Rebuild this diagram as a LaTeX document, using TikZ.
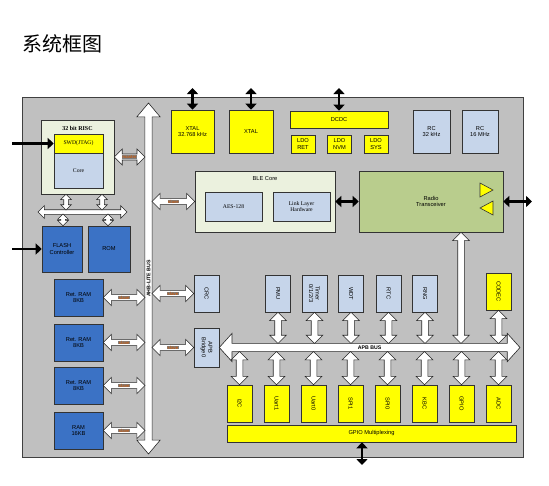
\documentclass[tikz,border=0pt]{standalone}
\usepackage{fontspec}
\setmainfont{Liberation Sans}
\newfontfamily\cjk{Noto Sans CJK SC}
\newfontfamily\sfont{Liberation Serif}
\usetikzlibrary{arrows.meta,shapes.arrows,calc}
\definecolor{panel}{HTML}{C0C0C0}
\definecolor{chipyellow}{HTML}{FFFF00}
\definecolor{paleblue}{HTML}{C6D5EA}
\definecolor{memblue}{HTML}{3B72C5}
\definecolor{cream}{HTML}{EBF1DE}
\definecolor{radiogreen}{HTML}{B9CD8D}
\definecolor{tagbg}{HTML}{808080}
\definecolor{tagfg}{HTML}{C55A11}
\setlength\fboxsep{0.3pt}
\newcommand\lab{\fontsize{5.7}{6.5}\selectfont}
\newcommand\bustag[1]{\colorbox{tagbg}{\textcolor{tagfg}{#1}}}
% white block arrow between two points
\newcommand\wlink[4][plink]{%
  \path let \p1=(#2), \p2=(#3),
    \n1={veclen(\x2-\x1,\y2-\y1)}, \n2={atan2(\y2-\y1,\x2-\x1)}
  in node[#1, minimum height=\n1, rotate=\n2] at ({0.5*\x1+0.5*\x2},{0.5*\y1+0.5*\y2}) {#4};}
\begin{document}
\begin{tikzpicture}[x=1pt,y=-1pt,>={Triangle[length=6pt,width=11pt]},
    box/.style={draw=black!80, line width=0.6pt, inner sep=0pt, align=center, font=\lab},
    ybox/.style={box, fill=chipyellow},
    lbox/.style={box, fill=paleblue},
    bbox/.style={box, fill=memblue},
    cbox/.style={box, fill=cream},
    mem/.style={minimum width=49, minimum height=37},
    pbox/.style={minimum width=25, minimum height=37},
    vlab/.style={rotate=-90, align=center, font=\lab},
    blk/.style={line width=2.5pt},
    warrow/.style={double arrow, draw=black!85, fill=white, line width=0.6pt, inner xsep=0pt, double arrow tip angle=90},
    slave/.style={warrow, inner ysep=0.9pt, double arrow head extend=5pt, font=\bfseries\fontsize{4.4}{4.6}\selectfont},
    plink/.style={warrow, inner ysep=3pt, double arrow head extend=5pt},
    cpulink/.style={warrow, inner ysep=2pt, double arrow head extend=3pt},
    cbus/.style={warrow, inner ysep=2pt, double arrow head extend=4pt},
    ahb/.style={warrow, inner ysep=1.5pt, double arrow head extend=8pt, double arrow tip angle=80, font=\bfseries\fontsize{5.2}{5.5}\selectfont},
    apb/.style={warrow, inner ysep=2pt, double arrow head extend=10pt, double arrow tip angle=96, font=\bfseries\fontsize{5.2}{5.5}\selectfont}]
  \useasboundingbox (0,0) rectangle (549,485);
  \fill[white] (0,0) rectangle (549,485);
  \node[anchor=west, inner sep=0pt, font=\cjk\fontsize{20}{20}\selectfont] (title) at (22,44) {系统框图};
  \draw[fill=panel, draw=black!75, line width=0.6pt] (22,97) rectangle (523,457);

  % free ends and bus edges
  \coordinate (top) at (0,88);
  \coordinate (jtag) at (12,143.5);
  \coordinate (fpin) at (12,249);
  \coordinate (ant) at (532,201.5);
  \coordinate (gpad) at (362,465);
  \coordinate (ahbL) at (145,0);
  \coordinate (ahbR) at (152,0);
  \coordinate (ahbBot) at (148.5,454);
  \coordinate (ahbTop) at (148.5,103);
  \coordinate (apbT) at (0,343.5);
  \coordinate (apbB) at (0,351.5);
  \coordinate (apbR) at (520,347.5);
  \coordinate (rx) at (461,0);
  \coordinate (cbL) at (38,212);
  \coordinate (cbR) at (127,212);
  \coordinate (cb1) at (66,210);
  \coordinate (cb2) at (102,210);
  \coordinate (cb3) at (63,214);
  \coordinate (cb4) at (108,214);

  % cpu and memories
  \node[cbox, minimum width=73, minimum height=74,
    label={[font=\sfont\bfseries\fontsize{6}{7}\selectfont, anchor=north, yshift=-3pt]north:32 bit RISC}] (cpu) at (77.5,157) {};
  \node[ybox, font=\sfont\lab, minimum width=49, minimum height=19] (swd) at (78.5,143.5) {SWD(JTAG)};
  \node[lbox, font=\sfont\lab, minimum width=49, minimum height=35] (core) at (78.5,170.5) {Core};
  \node[bbox, minimum width=40, minimum height=46] (flash) at (62,249) {FLASH\\Controller};
  \node[bbox, minimum width=42, minimum height=46] (rom) at (109,249) {ROM};
  \node[bbox, mem] (ram1) at (78.5,297.5) {Ret. RAM\\8KB};
  \node[bbox, mem] (ram2) at (78.5,342.5) {Ret. RAM\\8KB};
  \node[bbox, mem] (ram3) at (78.5,385.5) {Ret. RAM\\8KB};
  \node[bbox, mem] (ram4) at (78.5,430.5) {RAM\\16KB};

  \wlink[cbus]{cbL}{cbR}{}
  \wlink[cpulink]{cb1 |- cpu.south}{cb1}{}
  \wlink[cpulink]{cb2 |- cpu.south}{cb2}{}
  \wlink[cpulink]{cb3}{cb3 |- flash.north}{}
  \wlink[cpulink]{cb4}{cb4 |- rom.north}{}
  \draw[blk,->] (jtag) -- (swd.west);
  \draw[blk,->] (fpin) -- (flash.west);

  % AHB bus
  \wlink[ahb]{ahbBot}{ahbTop}{AHB-LITE BUS}
  \wlink[slave]{cpu.east}{cpu.east -| ahbL}{\bustag{master}}
  \wlink[slave]{ram1.east}{ram1.east -| ahbL}{\bustag{slave}}
  \wlink[slave]{ram2.east}{ram2.east -| ahbL}{\bustag{slave}}
  \wlink[slave]{ram3.east}{ram3.east -| ahbL}{\bustag{slave}}
  \wlink[slave]{ram4.east}{ram4.east -| ahbL}{\bustag{slave}}

  % clocks and power
  \node[ybox, minimum width=43, minimum height=43] (xtal1) at (192.5,131.5) {XTAL\\32.768 kHz};
  \node[ybox, minimum width=44, minimum height=43] (xtal2) at (251,131.5) {XTAL};
  \node[ybox, minimum width=98, minimum height=17] (dcdc) at (339,119.5) {DCDC};
  \node[ybox, minimum width=24, minimum height=18] (ldo1) at (303,144) {LDO\\RET};
  \node[ybox, minimum width=24, minimum height=18] (ldo2) at (339.5,144) {LDO\\NVM};
  \node[ybox, minimum width=24, minimum height=18] (ldo3) at (376,144) {LDO\\SYS};
  \node[lbox, minimum width=37, minimum height=43] (rc1) at (431.5,131.5) {RC\\32 kHz};
  \node[lbox, minimum width=36, minimum height=43] (rc2) at (480,131.5) {RC\\16 MHz};
  \draw[blk,<->] (xtal1.north) -- (xtal1.north |- top);
  \draw[blk,<->] (xtal2.north) -- (xtal2.north |- top);
  \draw[blk,<->] (dcdc.north) -- (dcdc.north |- top);

  % BLE core and radio
  \node[cbox, minimum width=140, minimum height=61,
    label={[font=\lab, anchor=north, yshift=-2pt]north:BLE Core}] (ble) at (265,201.5) {};
  \node[lbox, font=\sfont\lab, minimum width=57, minimum height=29] (aes) at (233.5,206.5) {AES-128};
  \node[lbox, font=\sfont\lab, minimum width=57, minimum height=29] (llh) at (301.5,206.5) {Link Layer\\Hardware};
  \node[box, fill=radiogreen, minimum width=144, minimum height=61] (radio) at (431,201.5) {Radio\\Transceiver};
  \draw[fill=chipyellow, draw=black!80, line width=0.6pt] (480,183) -- (493,190) -- (480,197) -- cycle
    (493,201) -- (480,208) -- (493,215) -- cycle;
  \wlink[slave]{ble.west -| ahbR}{ble.west}{\bustag{slave}}
  \draw[blk,<->] (ble.east) -- (radio.west);
  \draw[blk,<->] (radio.east) -- (radio.east -| ant);

  % APB side
  \node[lbox, pbox, label={[vlab]center:CRC}] (crc) at (206.5,293.5) {};
  \node[lbox, minimum width=25, minimum height=39, label={[vlab]center:{APB\\Bridge0}}] (apbbr) at (206.5,347.5) {};
  \wlink[slave]{crc.west -| ahbR}{crc.west}{\bustag{slave}}
  \wlink[slave]{apbbr.west -| ahbR}{apbbr.west}{\bustag{slave}}
  \wlink[apb]{apbbr.east}{apbR}{APB BUS}
  \wlink{rx |- radio.south}{rx |- apbT}{}

  \node[lbox, pbox, label={[vlab]center:PMU}] (pmu) at (278,293.5) {};
  \node[lbox, pbox, label={[vlab]center:{Timer\\0/1/2/3}}] (timer) at (314.5,293.5) {};
  \node[lbox, pbox, label={[vlab]center:WDT}] (wdt) at (351,293.5) {};
  \node[lbox, pbox, label={[vlab]center:RTC}] (rtc) at (388.5,293.5) {};
  \node[lbox, pbox, label={[vlab]center:RNG}] (rng) at (425,293.5) {};
  \node[ybox, pbox, label={[vlab]center:CODEC}] (codec) at (498.5,291.5) {};
  \wlink{pmu.south}{pmu.south |- apbT}{}
  \wlink{timer.south}{timer.south |- apbT}{}
  \wlink{wdt.south}{wdt.south |- apbT}{}
  \wlink{rtc.south}{rtc.south |- apbT}{}
  \wlink{rng.south}{rng.south |- apbT}{}
  \wlink{codec.south}{codec.south |- apbT}{}

  \node[ybox, pbox, label={[vlab]center:I2C}] (i2c) at (239.5,403.5) {};
  \node[ybox, pbox, label={[vlab]center:Uart1}] (uart1) at (276.5,403.5) {};
  \node[ybox, pbox, label={[vlab]center:Uart0}] (uart0) at (313.5,403.5) {};
  \node[ybox, pbox, label={[vlab]center:SPI1}] (spi1) at (350.5,403.5) {};
  \node[ybox, pbox, label={[vlab]center:SPI0}] (spi0) at (387.5,403.5) {};
  \node[ybox, pbox, label={[vlab]center:KBC}] (kbc) at (424.5,403.5) {};
  \node[ybox, pbox, label={[vlab]center:GPIO}] (gpio) at (461.5,403.5) {};
  \node[ybox, pbox, label={[vlab]center:ADC}] (adc) at (498.5,403.5) {};
  \wlink{i2c.north |- apbB}{i2c.north}{}
  \wlink{uart1.north |- apbB}{uart1.north}{}
  \wlink{uart0.north |- apbB}{uart0.north}{}
  \wlink{spi1.north |- apbB}{spi1.north}{}
  \wlink{spi0.north |- apbB}{spi0.north}{}
  \wlink{kbc.north |- apbB}{kbc.north}{}
  \wlink{gpio.north |- apbB}{gpio.north}{}
  \wlink{adc.north |- apbB}{adc.north}{}

  \node[ybox, minimum width=289, minimum height=17] (gmux) at (371.5,433.5) {GPIO Multiplexing};
  \draw[blk,<->] (gpad |- gmux.south) -- (gpad);
\end{tikzpicture}
\end{document}
